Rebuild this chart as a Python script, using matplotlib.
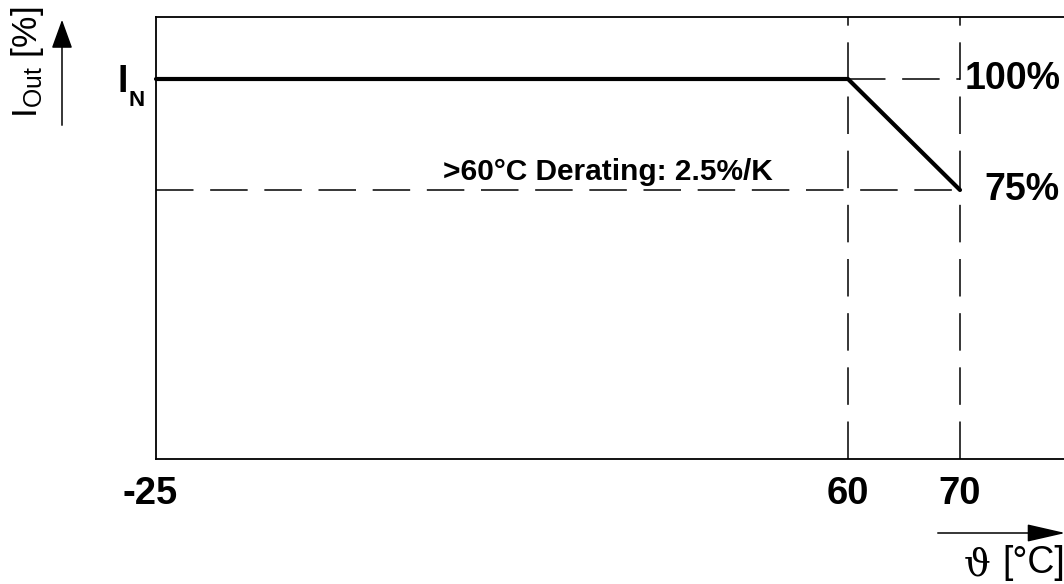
import numpy as np
import matplotlib
matplotlib.use("Agg")
import matplotlib.pyplot as plt
from matplotlib.patches import FancyArrowPatch
from matplotlib.transforms import ScaledTranslation

# ==========================================
# DATA
# ==========================================
temps = [-25, 60, 70]            # ambient temperature [°C]
current = [100, 100, 75]         # output current [% of I_N]
tick_temps = [-25, 60, 70]
tick_labels = ["-25", "60", "70"]
level_labels = ["100%", "75%"]
derating_text = ">60\u00b0C Derating: 2.5%/K"

# ==========================================
plt.rcParams['font.family'] = ['Liberation Sans', 'DejaVu Sans']
plt.rcParams['mathtext.fontset'] = 'custom'
plt.rcParams['mathtext.rm'] = 'Liberation Sans'
plt.rcParams['mathtext.bf'] = 'Liberation Sans:bold'
plt.rcParams['lines.scale_dashes'] = False

W, H = 1064, 584
fig = plt.figure(figsize=(W / 100, H / 100), dpi=100)
ax = fig.add_axes([156 / W, 1 - 459 / H, 1 - 156 / W, (459 - 17) / H])

# the drawing is not to scale: -25..60 is squeezed, 60..70 is stretched
K1 = 692 / 85.0   # px per °C below 60
K2 = 11.2         # px per °C above 60


def fwd(x):
    x = np.asarray(x, dtype=float)
    return np.where(x < 60, (x + 25) * K1, 85 * K1 + (x - 60) * K2)


def inv(p):
    p = np.asarray(p, dtype=float)
    return np.where(p < 85 * K1, p / K1 - 25, 60 + (p - 85 * K1) / K2)


ax.set_xscale('function', functions=(fwd, inv))
ax.set_xlim(-25, 70 + (W - 960) / K2)
ax.set_ylim(100 - (459 - 79) / 4.44, 100 + (79 - 17) / 4.44)

dash = (0, (27, 12))
ax.axvline(temps[1], color='black', lw=1.1, ls=dash)
ax.axvline(temps[2], color='black', lw=1.1, ls=dash)
ax.plot([temps[1], temps[2]], [current[0], current[0]], color='black', lw=1.1, ls=dash)
ax.plot([temps[0], temps[2]], [current[2], current[2]], color='black', lw=1.1, ls=dash)

ax.plot(temps, current, color='black', lw=3.0, solid_capstyle='round',
        solid_joinstyle='round', clip_on=False, zorder=5)

for side in ['top', 'left', 'bottom']:
    ax.spines[side].set_linewidth(1.3)
ax.spines['right'].set_visible(False)

ax.set_xticks(tick_temps)
ax.set_xticklabels(tick_labels, fontsize=27.5, fontweight='bold')
ax.tick_params(axis='x', length=0, pad=12)
lbl = ax.get_xticklabels()[0]
lbl.set_transform(lbl.get_transform() + ScaledTranslation(-6 / 100, 0, fig.dpi_scale_trans))
ax.set_yticks([])

# level labels right of the 70 line
ax.text(70.4, current[1], level_labels[0], fontsize=27, fontweight='bold',
        va='center', ha='left')
ax.text(72.2, current[2], level_labels[1], fontsize=27, fontweight='bold',
        va='center', ha='left')
ax.text(30.5, 77.3, derating_text, fontsize=21.5, fontweight='bold',
        ha='center', va='baseline')

# I_N label left of the axis
ax.text(-28.5, 99.4, 'I', fontsize=27, fontweight='bold', ha='right', va='center')
ax.text(-26.4, 97.5, 'N', fontsize=16, fontweight='bold', ha='right', va='top')

# axis titles with arrows
fig.text(28 / W, 1 - 62 / H, r'$\mathrm{I_{Out}}$ [%]', fontsize=25.5,
         rotation=90, ha='center', va='center')
fig.text(964 / W, 1 - 565 / H, '\u03d1', fontsize=27, family='DejaVu Serif',
         ha='left', va='center')
fig.text(1002 / W, 1 - 563 / H, '[\u00b0C]', fontsize=27, ha='left', va='center')

up = FancyArrowPatch((62, H - 128), (62, H - 17), transform=None,
                     arrowstyle='-|>,head_length=18,head_width=6.5',
                     mutation_scale=1, lw=1.1, color='black')
right = FancyArrowPatch((935, H - 533), (1068, H - 533), transform=None,
                       arrowstyle='-|>,head_length=24,head_width=5.5',
                       mutation_scale=1, lw=1.1, color='black')
fig.add_artist(up)
fig.add_artist(right)

fig.savefig('out.png', dpi=100)
